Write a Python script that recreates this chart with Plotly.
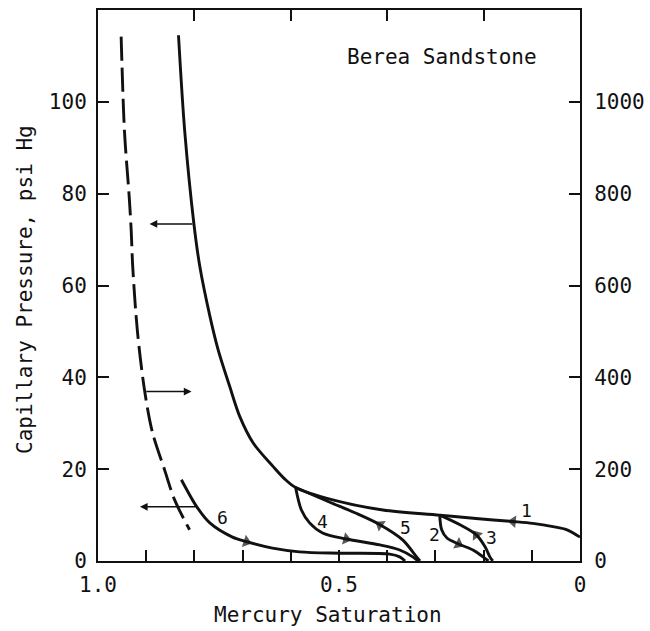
import plotly.graph_objects as go

# ---- data ----
# Curve 1: primary drainage, left axis (psi Hg)
main_S = [0.833, 0.820, 0.801, 0.789, 0.768, 0.751, 0.727, 0.706, 0.678, 0.637,
          0.614, 0.590, 0.513, 0.409, 0.291, 0.210, 0.139, 0.098, 0.056, 0.027, 0.0]
main_P = [114.5, 93.5, 73.4, 64.3, 53.4, 46.1, 38.1, 31.5, 25.7, 20.6,
          18.0, 16.0, 13.3, 11.1, 10.0, 9.2, 8.6, 8.2, 7.5, 6.8, 5.2]
# Dashed curve, right axis
dash_S = [0.952, 0.945, 0.935, 0.931, 0.928, 0.918, 0.903, 0.887, 0.862, 0.841, 0.810]
dash_P = [1142, 935, 789, 717, 642, 498, 369, 280, 199, 133, 68]
# Scanning curves 2-6 (left axis)
c2_S = [0.291, 0.287, 0.276, 0.252, 0.222, 0.201, 0.190]
c2_P = [10.0, 6.8, 5.0, 3.7, 2.4, 0.9, 0.0]
c3_S = [0.291, 0.249, 0.215, 0.197, 0.187, 0.181]
c3_P = [10.0, 7.9, 5.7, 3.1, 0.9, 0.0]
c4_S = [0.590, 0.578, 0.561, 0.534, 0.485, 0.415, 0.374, 0.347, 0.336]
c4_P = [16.0, 11.1, 8.3, 6.1, 4.8, 3.5, 2.4, 0.9, 0.0]
c5_S = [0.590, 0.519, 0.467, 0.415, 0.368, 0.339, 0.332]
c5_P = [16.0, 12.8, 10.5, 7.9, 4.6, 0.9, 0.0]
c6_S = [0.827, 0.795, 0.768, 0.721, 0.692, 0.638, 0.582, 0.498, 0.395, 0.374, 0.363]
c6_P = [17.7, 11.8, 8.3, 5.2, 4.2, 2.8, 2.0, 1.7, 1.5, 0.9, 0.0]

x_ticks = [1.0, 0.9, 0.8, 0.7, 0.6, 0.5, 0.4, 0.3, 0.2, 0.1, 0.0]
x_ticktext = ["1.0", "", "", "", "", "0.5", "", "", "", "", "0"]
top_ticks = [0.8, 0.6, 0.4, 0.2]
y_ticks = [0, 20, 40, 60, 80, 100]
y2_ticks = [0, 200, 400, 600, 800, 1000]

FONT = "DejaVu Sans Mono"
INK = "#111111"
LW = 2.9

W, H = 650, 631
ML, MR, MT, MB = 98, 70, 10, 70

def px_to_paper(px, py):
    return (px - ML) / (W - ML - MR), (H - MB - py) / (H - MT - MB)

fig = go.Figure()

def curve(xs, ys, yaxis="y", dash="solid"):
    fig.add_trace(go.Scatter(x=xs, y=ys, yaxis=yaxis, mode="lines",
                             line=dict(color=INK, width=LW, dash=dash,
                                       shape="spline", smoothing=0.9),
                             showlegend=False, hoverinfo="skip"))

def arrowhead(xs, ys, i, j, yaxis="y"):
    # arrow marker at point i, oriented from point j toward i
    fig.add_trace(go.Scatter(x=[xs[j], xs[i]], y=[ys[j], ys[i]], yaxis=yaxis,
                             mode="markers",
                             marker=dict(symbol="triangle-up", size=[0, 11], color=INK,
                                         angleref="previous", line=dict(width=0)),
                             showlegend=False, hoverinfo="skip"))

curve(main_S, main_P)
curve(dash_S, dash_P, yaxis="y2", dash="24px,7px")
curve(c2_S, c2_P)
curve(c3_S, c3_P)
curve(c4_S, c4_P)
curve(c5_S, c5_P)
curve(c6_S, c6_P)

arrowhead(main_S, main_P, 16, 17)
arrowhead(c2_S, c2_P, 3, 2)
arrowhead(c3_S, c3_P, 2, 3)
arrowhead(c4_S, c4_P, 4, 3)
arrowhead(c5_S, c5_P, 3, 4)
arrowhead(c6_S, c6_P, 4, 3)

annotations = []
# horizontal arrows indicating which axis each curve uses
def axis_arrow(xs, ys, i, dx, yref="y"):
    annotations.append(dict(x=xs[i] + dx, y=ys[i], ax=xs[i], ay=ys[i],
                            xref="x", yref=yref, axref="x", ayref=yref,
                            showarrow=True, arrowhead=2, arrowsize=1.1,
                            arrowwidth=1.4, arrowcolor=INK, text="",
                            standoff=0, startstandoff=0))

axis_arrow(main_S, main_P, 2, 0.092)
axis_arrow(dash_S, dash_P, 6, -0.097, yref="y2")
axis_arrow(c6_S, c6_P, 1, 0.118)

# curve number labels
for txt, sx, py in [("1", 0.110, 10.9), ("2", 0.301, 5.7), ("3", 0.183, 5.2),
                    ("4", 0.534, 8.5), ("5", 0.363, 7.2), ("6", 0.741, 9.4)]:
    annotations.append(dict(x=sx, y=py, xref="x", yref="y", text=txt,
                            showarrow=False, font=dict(family=FONT, size=18, color=INK)))

tx, ty = px_to_paper(442, 57)
annotations.append(dict(x=tx, y=ty, xref="paper", yref="paper", text="Berea Sandstone",
                        xanchor="center", yanchor="middle", showarrow=False,
                        font=dict(family=FONT, size=21, color=INK)))
mx, my = px_to_paper(328, 615)
annotations.append(dict(x=mx, y=my, xref="paper", yref="paper", text="Mercury Saturation",
                        xanchor="center", yanchor="middle", showarrow=False,
                        font=dict(family=FONT, size=21, color=INK)))
cx, cy = px_to_paper(25, 290)
annotations.append(dict(x=cx, y=cy, xref="paper", yref="paper",
                        text="Capillary Pressure, psi Hg", textangle=-90,
                        xanchor="center", yanchor="middle", showarrow=False,
                        font=dict(family=FONT, size=21, color=INK)))

common = dict(ticks="inside", ticklen=11, tickwidth=1.6, tickcolor=INK,
              showline=True, linewidth=2, linecolor=INK, showgrid=False,
              zeroline=False, automargin=False)

fig.update_layout(
    width=W, height=H,
    margin=dict(l=ML, r=MR, t=MT, b=MB),
    paper_bgcolor="white", plot_bgcolor="white",
    font=dict(family=FONT, size=21, color=INK),
    xaxis=dict(range=[1.0, 0.0], tickvals=x_ticks, ticktext=x_ticktext,
               ticklabelstandoff=4, **common),
    xaxis2=dict(range=[1.0, 0.0], overlaying="x", side="top", tickvals=top_ticks,
                showticklabels=False, **common),
    yaxis=dict(range=[0, 120], tickvals=y_ticks, ticklabelstandoff=5, **common),
    yaxis2=dict(range=[0, 1200], tickvals=y2_ticks, overlaying="y", side="right",
                ticklabelstandoff=8, **common),
    annotations=annotations,
)

# an invisible trace on the top axis so it is drawn
fig.add_trace(go.Scatter(x=[0.5], y=[0], xaxis="x2", mode="markers",
                         marker=dict(opacity=0), showlegend=False, hoverinfo="skip"))

fig.write_html("out.html")
